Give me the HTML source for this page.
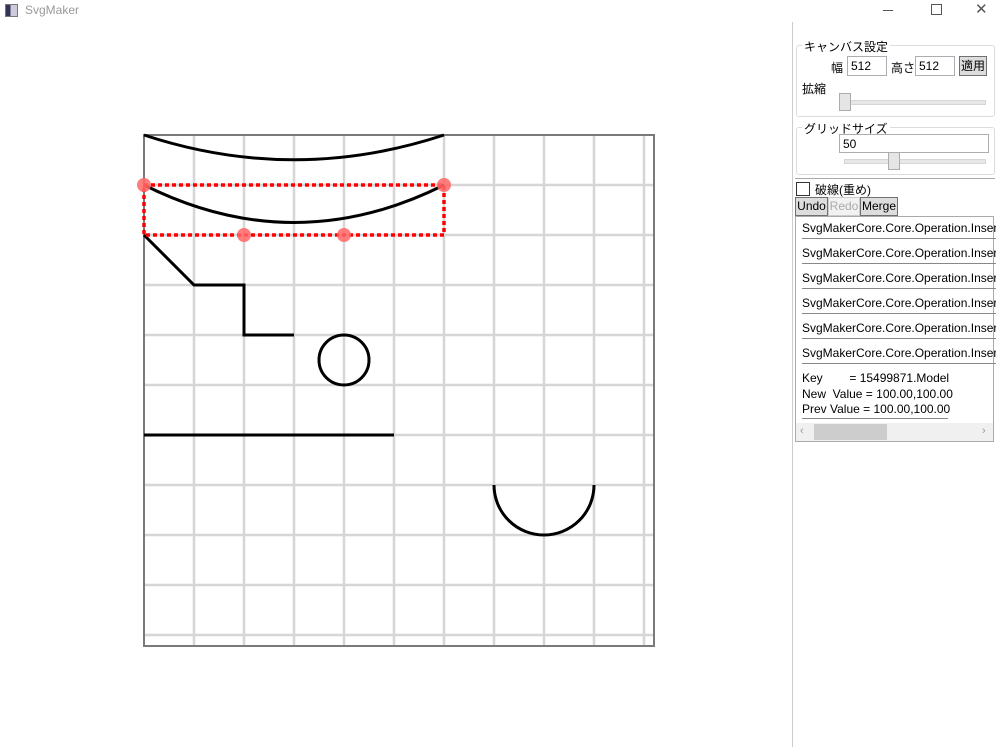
<!DOCTYPE html>
<html><head><meta charset="utf-8"><style>
body{margin:0;width:1002px;height:747px;background:#fff;position:relative;overflow:hidden;font-family:"Liberation Sans","Noto Sans CJK JP",sans-serif;font-size:12px;color:#000}
.abs{position:absolute}
.tb{border:1px solid #abadb3;background:#fff;height:18px;line-height:18px;padding-left:3px;box-sizing:border-box;font-size:12px}
.btn{border:1px solid #707070;background:#ddd;height:19px;line-height:17px;box-sizing:border-box;text-align:center;font-size:12px}
.item{left:802px;width:194px;border-bottom:1px solid #888;height:19px;line-height:19px;font-size:12px;white-space:nowrap;overflow:hidden}
.grp{border:1px solid #dcdcdc;border-radius:3px}
.lg{background:#fff;padding:0 2px;font-size:12px}
</style></head><body>
<div class="abs" style="left:0;top:0;width:1002px;height:22px">
 <div class="abs" style="left:5px;top:4px;width:11px;height:11px;border:1px solid #777;background:linear-gradient(90deg,#335 0 40%,#ccd 40%)"></div>
 <div class="abs" style="left:25px;top:3px;color:#999;font-size:12px">SvgMaker</div>
 <div class="abs" style="left:883px;top:10px;width:10px;height:1px;background:#555"></div>
 <div class="abs" style="left:931px;top:4px;width:9px;height:9px;border:1px solid #555"></div>
 <div class="abs" style="left:975px;top:0px;font-size:15px;color:#555">✕</div>
</div>
<svg class="abs" style="left:0;top:0" width="790" height="747">
<g id="grid" stroke="#d6d6d6" stroke-width="2.5"></g>
<rect x="144" y="135" width="510" height="511" fill="none" stroke="#7a7a7a" stroke-width="2"/>
<g transform="translate(144,135)" fill="none" stroke="#000" stroke-width="3">
 <path d="M0,0 C100,33 200,33 300,0"/>
 <path d="M0,50 C100,100 200,100 300,50"/>
 <polyline points="0,100 50,150 100,150 100,200 150,200"/>
 <circle cx="200" cy="225" r="25"/>
 <line x1="0" y1="300" x2="250" y2="300"/>
 <path d="M350,350 A50,50 0 0 0 450,350"/>
 <rect x="0" y="50" width="300" height="50" stroke="#f00" stroke-dasharray="4,3" stroke-width="3.5"/>
 <g fill="#f66" fill-opacity="0.85" stroke="none">
  <circle cx="0" cy="50" r="7"/>
  <circle cx="300" cy="50" r="7"/>
  <circle cx="100" cy="100" r="7"/>
  <circle cx="200" cy="100" r="7"/>
 </g>
</g>
</svg>
<script>
var g=document.getElementById('grid');
for(var i=1;i<=10;i++){var v=document.createElementNS('http://www.w3.org/2000/svg','line');
v.setAttribute('x1',144+50*i);v.setAttribute('x2',144+50*i);v.setAttribute('y1',135);v.setAttribute('y2',646);


g.appendChild(v);
var h=document.createElementNS('http://www.w3.org/2000/svg','line');
h.setAttribute('y1',135+50*i);h.setAttribute('y2',135+50*i);h.setAttribute('x1',144);h.setAttribute('x2',654);


g.appendChild(h);}
</script>
<div class="abs" style="left:792px;top:22px;width:1px;height:725px;background:#ccc"></div>
<div class="abs grp" style="left:796px;top:45px;width:197px;height:70px"></div>
<div class="abs lg" style="left:802px;top:38px">キャンバス設定</div>
<div class="abs" style="left:831px;top:59px">幅</div>
<div class="abs tb" style="left:847px;top:56px;width:40px;height:20px">512</div>
<div class="abs" style="left:891px;top:59px">高さ</div>
<div class="abs tb" style="left:915px;top:56px;width:40px;height:20px">512</div>
<div class="abs btn" style="left:959px;top:56px;width:28px;height:20px;line-height:18px">適用</div>
<div class="abs" style="left:802px;top:80px">拡縮</div>
<div class="abs" style="left:844px;top:100px;width:140px;height:3px;background:#e7e7e7;border:1px solid #d6d6d6"></div>
<div class="abs" style="left:839px;top:93px;width:10px;height:16px;background:#e5e5e5;border:1px solid #acacac"></div>
<div class="abs grp" style="left:796px;top:127px;width:197px;height:46px"></div>
<div class="abs lg" style="left:802px;top:120px">グリッドサイズ</div>
<div class="abs tb" style="left:839px;top:134px;width:150px;height:19px">50</div>
<div class="abs" style="left:844px;top:159px;width:140px;height:3px;background:#e7e7e7;border:1px solid #d6d6d6"></div>
<div class="abs" style="left:888px;top:152px;width:10px;height:16px;background:#e5e5e5;border:1px solid #acacac"></div>
<div class="abs" style="left:795px;top:178px;width:200px;height:1px;background:#aaa"></div>
<div class="abs" style="left:796px;top:182px;width:12px;height:12px;border:1px solid #333;background:#fff"></div>
<div class="abs" style="left:815px;top:181px">破線(重め)</div>
<div class="abs btn" style="left:795px;top:197px;width:33px">Undo</div>
<div class="abs btn" style="left:828px;top:197px;width:32px;color:#aaa;border-color:#ccc;background:#f2f2f2">Redo</div>
<div class="abs btn" style="left:860px;top:197px;width:38px">Merge</div>
<div class="abs" style="left:795px;top:216px;width:199px;height:226px;border:1px solid #aaa;box-sizing:border-box"></div>
<div class="abs item" style="top:219px">SvgMakerCore.Core.Operation.Insert</div>
<div class="abs item" style="top:244px">SvgMakerCore.Core.Operation.Insert</div>
<div class="abs item" style="top:269px">SvgMakerCore.Core.Operation.Insert</div>
<div class="abs item" style="top:294px">SvgMakerCore.Core.Operation.Insert</div>
<div class="abs item" style="top:319px">SvgMakerCore.Core.Operation.Insert</div>
<div class="abs item" style="top:344px">SvgMakerCore.Core.Operation.Insert</div>
<div class="abs" style="left:802px;top:371px;width:146px;line-height:15.5px;font-size:12px;border-bottom:1px solid #888;white-space:pre">Key        = 15499871.Model
New  Value = 100.00,100.00
Prev Value = 100.00,100.00</div>
<div class="abs" style="left:796px;top:423px;width:197px;height:18px;background:#f0f0f0"></div>
<div class="abs" style="left:800px;top:425px;color:#999;font-size:11px">‹</div>
<div class="abs" style="left:814px;top:424px;width:73px;height:16px;background:#cdcdcd"></div>
<div class="abs" style="left:982px;top:425px;color:#999;font-size:11px">›</div>
</body></html>
